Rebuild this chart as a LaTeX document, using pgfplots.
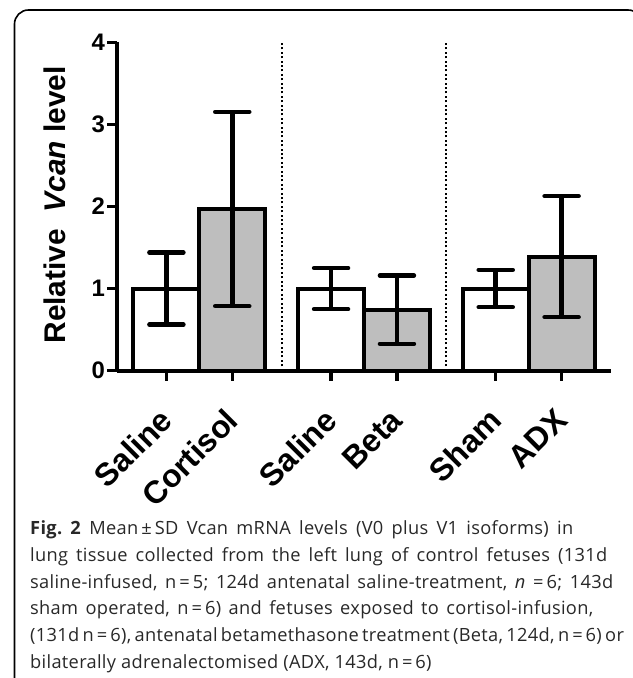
\documentclass[border=0pt]{standalone}
\usepackage{fontspec}
\setmainfont{Liberation Sans}
\newfontfamily\capfont[LetterSpace=1.7]{Open Sans}
\usepackage{pgfplots}
\pgfplotsset{compat=1.18}
\definecolor{bargray}{RGB}{190,190,190}
\definecolor{captext}{RGB}{40,40,40}
\begin{document}
\begin{tikzpicture}[x=1bp,y=1bp]
\useasboundingbox (0,0) rectangle (633,678);
\clip (0,0) rectangle (633,678);
% frame
\draw[line width=1.6bp, rounded corners=14bp] (14.5,-30) -- (14.5,668) -- (642,668) -- (642,-30);
\begin{axis}[
  at={(117bp,307.3bp)}, anchor=south west,
  scale only axis, width=494bp, height=328.4bp,
  xmin=-0.75, xmax=6.75, ymin=0, ymax=4,
  axis x line*=bottom, axis y line*=left,
  axis line style={line width=4bp, -},
  every tick/.style={line width=3.5bp, black},
  major tick length=10bp, tick align=outside,
  xtick={0,1,2.5,3.5,5,6},
  xticklabels={Saline,Cortisol,Saline,Beta,Sham,ADX},
  ytick={0,1,2,3,4},
  yticklabels={0,1,2,3,4},
  xticklabel style={yshift=-34bp, rotate=45, anchor=east, inner sep=0pt, font=\fontsize{32}{32}\selectfont\bfseries},
  yticklabel style={inner sep=0pt, xshift=-2bp, font=\fontsize{24}{24}\selectfont\bfseries},
  ylabel={Relative\ \ \textit{Vcan} level},
  ylabel style={at={(axis description cs:-0.1255,0.505)}, anchor=center, rotate=0, inner sep=0pt, font=\fontsize{30}{30}\selectfont\bfseries},
  ybar, bar width=1, bar shift=0pt,
  clip=false,
]
\addplot[sharp plot, line width=2.2bp, dash pattern=on 2bp off 2.4bp, forget plot] coordinates {(1.75,0) (1.75,4)};
\addplot[sharp plot, line width=2.2bp, dash pattern=on 2bp off 2.4bp, forget plot] coordinates {(4.25,0) (4.25,4)};
\addplot[draw=black, fill=white, line width=4bp,
  error bars/.cd, y dir=both, y explicit,
  error bar style={line width=4.5bp, black},
  error mark options={rotate=90, mark size=17bp, line width=4.5bp, line cap=round, black}]
  coordinates {(0,1.0) +- (0,0.44) (2.5,1.0) +- (0,0.25) (5,1.0) +- (0,0.227)};
\addplot[draw=black, fill=bargray, line width=4bp,
  error bars/.cd, y dir=both, y explicit,
  error bar style={line width=4.5bp, black},
  error mark options={rotate=90, mark size=17bp, line width=4.5bp, line cap=round, black}]
  coordinates {(1,1.97) +- (0,1.183) (3.5,0.743) +- (0,0.416) (6,1.389) +- (0,0.737)};
\end{axis}
% caption
\begin{scope}[every node/.style={anchor=base west, inner sep=0pt, text=captext, font=\capfont\fontsize{18.3}{20}\selectfont\frenchspacing}]
\node at (30,143.0) {\makebox[543bp][s]{\textbf{Fig. 2} Mean\,±\,SD Vcan mRNA levels (V0 plus V1 isoforms) in}};
\node at (30,116.3) {\makebox[577bp][s]{lung tissue collected from the left lung of control fetuses (131d}};
\node at (30,89.7) {\makebox[583bp][s]{saline-infused, n\,=\,5; 124d antenatal saline-treatment, \textit{n} =\,6; 143d}};
\node at (30,63.0) {\makebox[563bp][s]{sham operated, n\,=\,6) and fetuses exposed to cortisol-infusion,}};
\node at (30,36.3) {\makebox[583bp][s]{(131d n\,=\,6), antenatal betamethasone treatment (Beta, 124d, n\,=\,6) or}};
\node at (30,9.7) {bilaterally adrenalectomised (ADX, 143d, n\,=\,6)};
\end{scope}
\end{tikzpicture}
\end{document}
